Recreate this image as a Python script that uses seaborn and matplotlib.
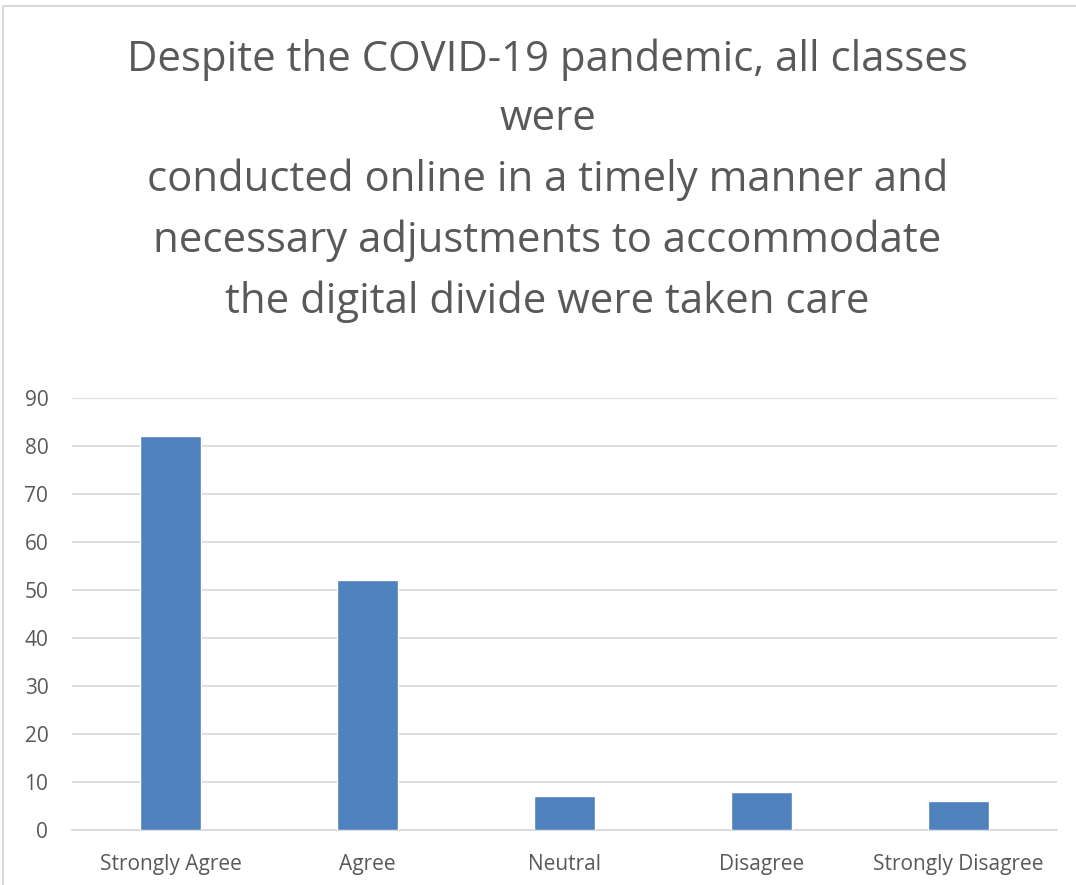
import matplotlib
matplotlib.use("Agg")
import matplotlib.pyplot as plt
import seaborn as sns
import pandas as pd

categories = ["Strongly Agree", "Agree", "Neutral", "Disagree", "Strongly Disagree"]
counts = [82, 52, 7, 8, 6]
yticks = [0, 10, 20, 30, 40, 50, 60, 70, 80, 90]
title_lines = [
    "Despite the COVID-19 pandemic, all classes",
    "were",
    "conducted online in a timely manner and",
    "necessary adjustments to accommodate",
    "the digital divide were taken care",
]

sns.set_theme(style="white")
plt.rcParams["font.family"] = ["Open Sans", "DejaVu Sans"]

df = pd.DataFrame({"category": categories, "count": counts})

fig = plt.figure(figsize=(10.76, 8.85), dpi=100)
ax = fig.add_axes([0.0669, 0.0621, 0.9154, 0.4882])

sns.barplot(data=df, x="category", y="count", color="#4F81BD",
            saturation=1, width=0.31, ax=ax, zorder=3)

ax.set_ylim(0, 90)
ax.set_yticks(yticks)
ax.set_xlim(-0.5, len(categories) - 0.5)
ax.grid(axis="y", color="#D9D9D9", linewidth=1.3, zorder=0)
for side in ["top", "right", "left"]:
    ax.spines[side].set_visible(False)
ax.spines["bottom"].set_color("#D9D9D9")
ax.spines["bottom"].set_linewidth(1.3)
ax.tick_params(axis="both", length=0, labelsize=15, labelcolor="#595959")
ax.tick_params(axis="x", pad=17)
ax.tick_params(axis="y", pad=17)
ax.set_xlabel("")
ax.set_ylabel("")

fig.text(0.509, 0.957, "\n".join(title_lines), ha="center", va="top",
         fontsize=30.2, color="#595959", linespacing=1.56)

# chart-area border (top and left edges visible)
fig.add_artist(plt.Line2D([0.003, 1.0], [0.993, 0.993], color="#D9D9D9", lw=1.5))
fig.add_artist(plt.Line2D([0.003, 0.003], [0.0, 0.993], color="#D9D9D9", lw=1.5))

fig.savefig("out.png", dpi=100)
